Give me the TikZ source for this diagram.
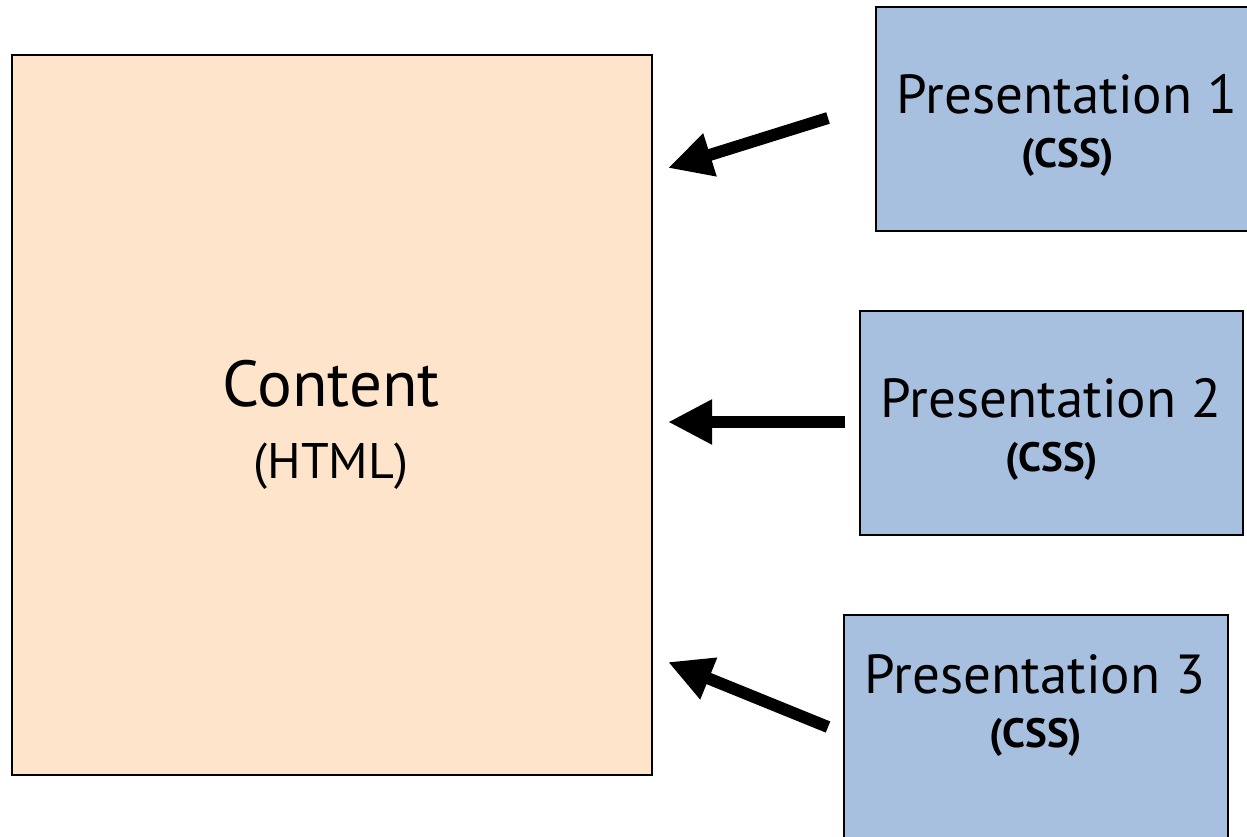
\documentclass[tikz,border=0pt]{standalone}
\usepackage{fontspec}
\setmainfont{PT Sans}
\usetikzlibrary{arrows.meta}
\definecolor{peach}{HTML}{FDE4CA}
\definecolor{paleblue}{HTML}{A8C0DF}
\tikzset{
  contentbox/.style={draw=black, line width=1.5pt, fill=peach},
  presbox/.style={draw=black, line width=1.5pt, fill=paleblue},
  bigtxt/.style={font=\fontsize{65}{65}\selectfont, anchor=base},
  midtxt/.style={font=\fontsize{50}{50}\selectfont, anchor=base},
  prestxt/.style={font=\fontsize{55}{55}\selectfont, anchor=base},
  csstxt/.style={font=\bfseries\fontsize{41}{41}\selectfont, anchor=base},
  bigarrow/.style={line width=12pt, -{Triangle[length=44pt,width=42pt]}},
}
\begin{document}
\begin{tikzpicture}[x=1pt,y=-1pt]
\useasboundingbox (0,0) rectangle (1247,837);
\clip (0,0) rectangle (1247,837);
\fill[white] (0,0) rectangle (1247,837);
% boxes
\draw[contentbox] (12,55) rectangle (652,775);
\draw[presbox] (876,7) rectangle (1260,231);
\draw[presbox] (860,311) rectangle (1243,535);
\draw[presbox] (844,615) rectangle (1228,860);
% texts
\node[bigtxt] (ct) at (331,406) {Content};
\node[midtxt] (ch) at (331,478) {(HTML)};
\node[prestxt] (p1) at (1067,114) {Presentation 1};
\node[csstxt] (c1) at (1068,168) {(CSS)};
\node[prestxt] (p2) at (1051,417) {Presentation 2};
\node[csstxt] (c2) at (1052,471) {(CSS)};
\node[prestxt] (p3) at (1035,693) {Presentation 3};
\node[csstxt] (c3) at (1036,747) {(CSS)};
% arrows
\coordinate (a1s) at (828,118);
\coordinate (a1e) at (668,168);
\coordinate (a2s) at (845,422);
\coordinate (a2e) at (668,422);
\coordinate (a3s) at (828,727);
\coordinate (a3e) at (668,662);
\draw[bigarrow] (a1s) -- (a1e);
\draw[bigarrow] (a2s) -- (a2e);
\draw[bigarrow] (a3s) -- (a3e);
\end{tikzpicture}
\end{document}
